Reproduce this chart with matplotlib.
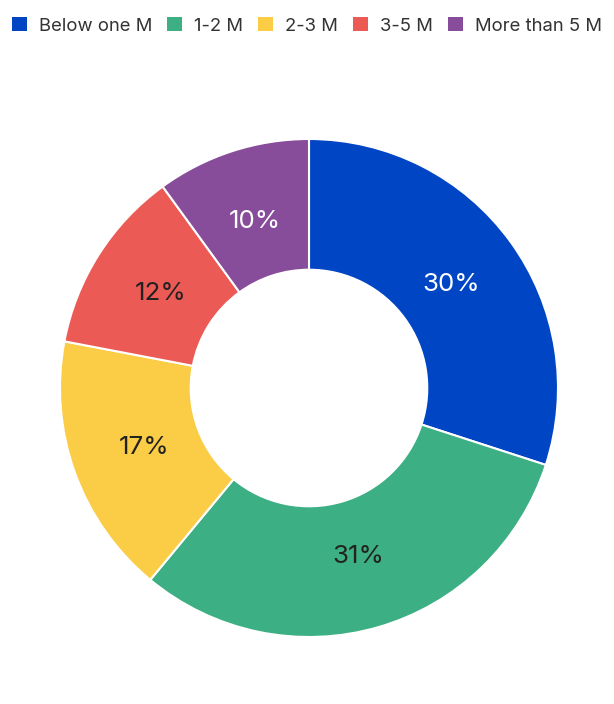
import matplotlib
matplotlib.use('Agg')
import matplotlib.pyplot as plt
from matplotlib.patches import Patch

categories = ['Below one M', '1-2 M', '2-3 M', '3-5 M', 'More than 5 M']
shares = [30, 31, 17, 12, 10]
colors = ['#0046c4', '#3daf84', '#fbcd47', '#eb5a55', '#874c9a']
label_colors = ['white', '#222222', '#222222', '#222222', 'white']

plt.rcParams['font.family'] = ['Inter', 'DejaVu Sans']

W, H = 614, 704
fig = plt.figure(figsize=(W / 100, H / 100), dpi=100)

# donut centre and radius in pixels
cx, cy, r = 309, 388, 249
ax = fig.add_axes([(cx - r) / W, (H - cy - r) / H, 2 * r / W, 2 * r / H])

wedges, texts, autotexts = ax.pie(
    shares, colors=colors, startangle=90, counterclock=False,
    radius=1.0, autopct='%d%%', pctdistance=0.705,
    wedgeprops=dict(width=0.525, edgecolor='white', linewidth=1.5),
    textprops=dict(fontsize=18.7))
for t, c in zip(autotexts, label_colors):
    t.set_color(c)
ax.set_xlim(-1, 1)
ax.set_ylim(-1, 1)
ax.axis('off')

handles = [Patch(facecolor=c, edgecolor='none') for c in colors]
fig.legend(handles, categories, loc='center left',
           bbox_to_anchor=(12 / W, 1 - 26 / H),
           ncol=5, frameon=False, fontsize=13.3, handlelength=0.8,
           handleheight=0.8, handletextpad=0.65, columnspacing=0.82,
           labelcolor='#333333', borderaxespad=0, borderpad=0)

fig.savefig('out.png', dpi=100)
